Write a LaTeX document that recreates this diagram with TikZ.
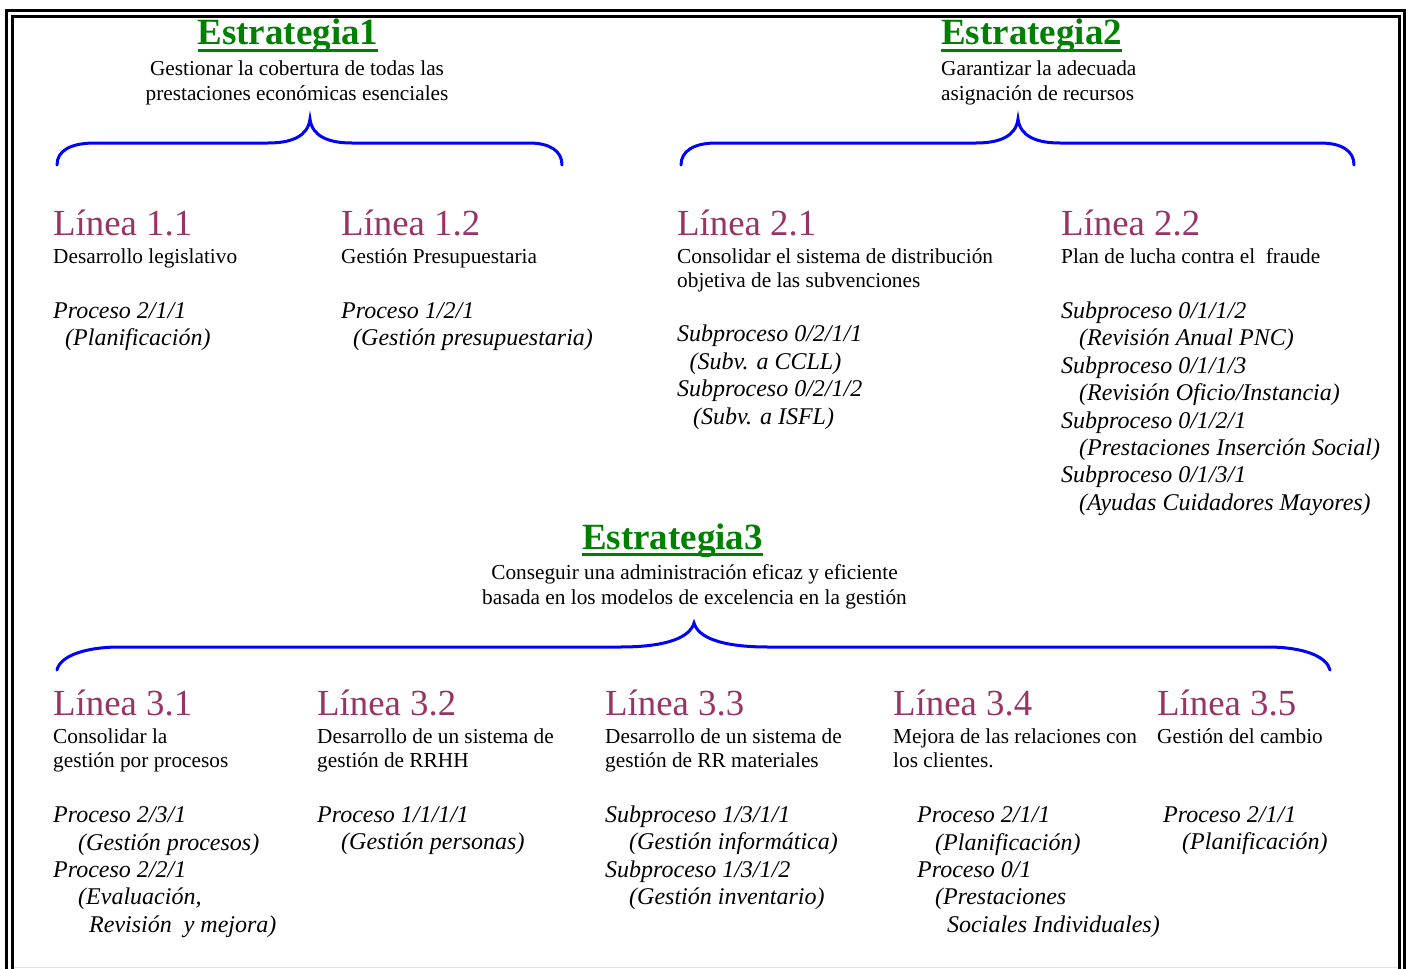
\documentclass[tikz,border=0pt]{standalone}
\usepackage{fontspec}
\setmainfont{Liberation Serif}
\definecolor{estrgreen}{HTML}{008000}
\definecolor{lineacol}{HTML}{993366}
\newcommand\estrul[1]{\setbox0\hbox{#1}\rlap{\raisebox{-7.4pt}{\rule{\wd0}{3.6pt}}}\box0}

\tikzset{
	estr/.style={anchor=base, inner sep=0pt, text=estrgreen, font=\fontsize{37}{40}\selectfont\bfseries},
	estrdesc/.style={anchor=base, inner sep=0pt, align=center, font=\fontsize{21.3}{25}\selectfont},
	linea/.style={anchor=base west, inner sep=0pt, text=lineacol, font=\fontsize{36.8}{40}\selectfont},
	lineadesc/.style={anchor=base west, inner sep=0pt, align=left, font=\fontsize{21.3}{24.6}\selectfont},
	proc/.style={anchor=base west, inner sep=0pt, align=left, font=\fontsize{24}{27.4}\selectfont\itshape},
	brace/.style={color=blue, line width=3pt, line cap=round},
}

\begin{document}
\begin{tikzpicture}[x=1pt, y=-1pt]
		%%%%% START %%%%%
		\useasboundingbox (0,0) rectangle (1409,969);
		\clip (0,0) rectangle (1409,969);
		
		% frame
		\draw[line width=3.3pt] (6.8,10.8) rectangle (1404.5,990);
		\draw[line width=3pt] (12.3,16.4) rectangle (1399.7,990);
		\draw[line width=1pt, color=black!12] (14,967.5) -- (1397.5,967.5);
		
		% estrategias (multi-line nodes sit on their last baseline)
		\node[estr] (estr1) at (288,45) {\estrul{Estrategia1}};
		\node[estrdesc] (estr1desc) at (297,100.5) {Gestionar la cobertura de todas las\\prestaciones económicas esenciales};
		\node[estr, anchor=base west] (estr2) at (941,45) {\estrul{Estrategia2}};
		\node[estrdesc, anchor=base west, align=left] (estr2desc) at (941,100.5) {Garantizar la adecuada\\asignación de recursos};
		\node[estr] (estr3) at (672.5,549) {\estrul{Estrategia3}};
		\node[estrdesc] (estr3desc) at (694.5,604.5) {Conseguir una administración eficaz y eficiente\\basada en los modelos de excelencia en la gestión};
		
		% llaves
		\draw[brace] (57,165) .. controls (57,151) and (70,143) .. (95,143) -- (268,143)
			.. controls (292,143) and (308,136) .. (310,119)
			.. controls (312,136) and (328,143) .. (352,143) -- (529,143)
			.. controls (550,143) and (562,151) .. (562,165);
		\draw[brace] (681,165) .. controls (681,151) and (694,143) .. (716,143) -- (976,143)
			.. controls (1000,143) and (1016,136) .. (1018,119)
			.. controls (1020,136) and (1036,143) .. (1060,143) -- (1320,143)
			.. controls (1342,143) and (1354,151) .. (1354,165);
		\draw[brace] (57,670) .. controls (60,656) and (85,647) .. (120,647) -- (620,647)
			.. controls (668,647) and (690,637) .. (694,623)
			.. controls (698,637) and (720,647) .. (768,647) -- (1267,647)
			.. controls (1305,647) and (1327,657) .. (1330,670);
		
		% lineas estrategia 1
		\node[linea] (l11) at (53,235) {Línea 1.1};
		\node[lineadesc] (l11desc) at (53,263.5) {Desarrollo legislativo};
		\node[proc] (l11proc) at (53,345.4) {Proceso 2/1/1\\\hspace*{12pt}(Planificación)};
		
		\node[linea] (l12) at (341,235) {Línea 1.2};
		\node[lineadesc] (l12desc) at (341,263.5) {Gestión Presupuestaria};
		\node[proc] (l12proc) at (341,345.4) {Proceso 1/2/1\\\hspace*{12pt}(Gestión presupuestaria)};
		
		% lineas estrategia 2
		\node[linea] (l21) at (677,235) {Línea 2.1};
		\node[lineadesc] (l21desc) at (677,287.6) {Consolidar el sistema de distribución\\objetiva de las subvenciones};
		\node[proc] (l21proc) at (677,424) {Subproceso 0/2/1/1\\\hspace*{12.5pt}(Subv. a CCLL)\\Subproceso 0/2/1/2\\\hspace*{16pt}(Subv. a ISFL)};
		
		\node[linea] (l22) at (1061,235) {Línea 2.2};
		\node[lineadesc] (l22desc) at (1061,263) {Plan de lucha contra el~ fraude};
		\node[proc] (l22proc) at (1061,510.3) {Subproceso 0/1/1/2\\\hspace*{18pt}(Revisión Anual PNC)\\Subproceso 0/1/1/3\\\hspace*{18pt}(Revisión Oficio/Instancia)\\Subproceso 0/1/2/1\\\hspace*{18pt}(Prestaciones Inserción Social)\\Subproceso 0/1/3/1\\\hspace*{18pt}(Ayudas Cuidadores Mayores)};
		
		% lineas estrategia 3
		\node[linea] (l31) at (53,715) {Línea 3.1};
		\node[lineadesc] (l31desc) at (53,767.9) {Consolidar la\\gestión por procesos};
		\node[proc] (l31proc) at (53,932.3) {Proceso 2/3/1\\\hspace*{25pt}(Gestión procesos)\\Proceso 2/2/1\\\hspace*{25pt}(Evaluación,\\\hspace*{36pt}Revisión~ y mejora)};
		
		\node[linea] (l32) at (317,715) {Línea 3.2};
		\node[lineadesc] (l32desc) at (317,767.9) {Desarrollo de un sistema de\\gestión de RRHH};
		\node[proc] (l32proc) at (317,849.7) {Proceso 1/1/1/1\\\hspace*{24pt}(Gestión personas)};
		
		\node[linea] (l33) at (605,715) {Línea 3.3};
		\node[lineadesc] (l33desc) at (605,767.9) {Desarrollo de un sistema de\\gestión de RR materiales};
		\node[proc] (l33proc) at (605,904.5) {Subproceso 1/3/1/1\\\hspace*{24pt}(Gestión informática)\\Subproceso 1/3/1/2\\\hspace*{24pt}(Gestión inventario)};
		
		\node[linea] (l34) at (893,715) {Línea 3.4};
		\node[lineadesc] (l34desc) at (893,767.9) {Mejora de las relaciones con\\los clientes.};
		\node[proc] (l34proc) at (917,932.3) {Proceso 2/1/1\\\hspace*{18pt}(Planificación)\\Proceso 0/1\\\hspace*{18pt}(Prestaciones\\\hspace*{30pt}Sociales Individuales)};
		
		\node[linea] (l35) at (1157,715) {Línea 3.5};
		\node[lineadesc] (l35desc) at (1157,743.3) {Gestión del cambio};
		\node[proc] (l35proc) at (1163,849.7) {Proceso 2/1/1\\\hspace*{19pt}(Planificación)};
		
		%%%%% END %%%%%
\end{tikzpicture}
\end{document}
